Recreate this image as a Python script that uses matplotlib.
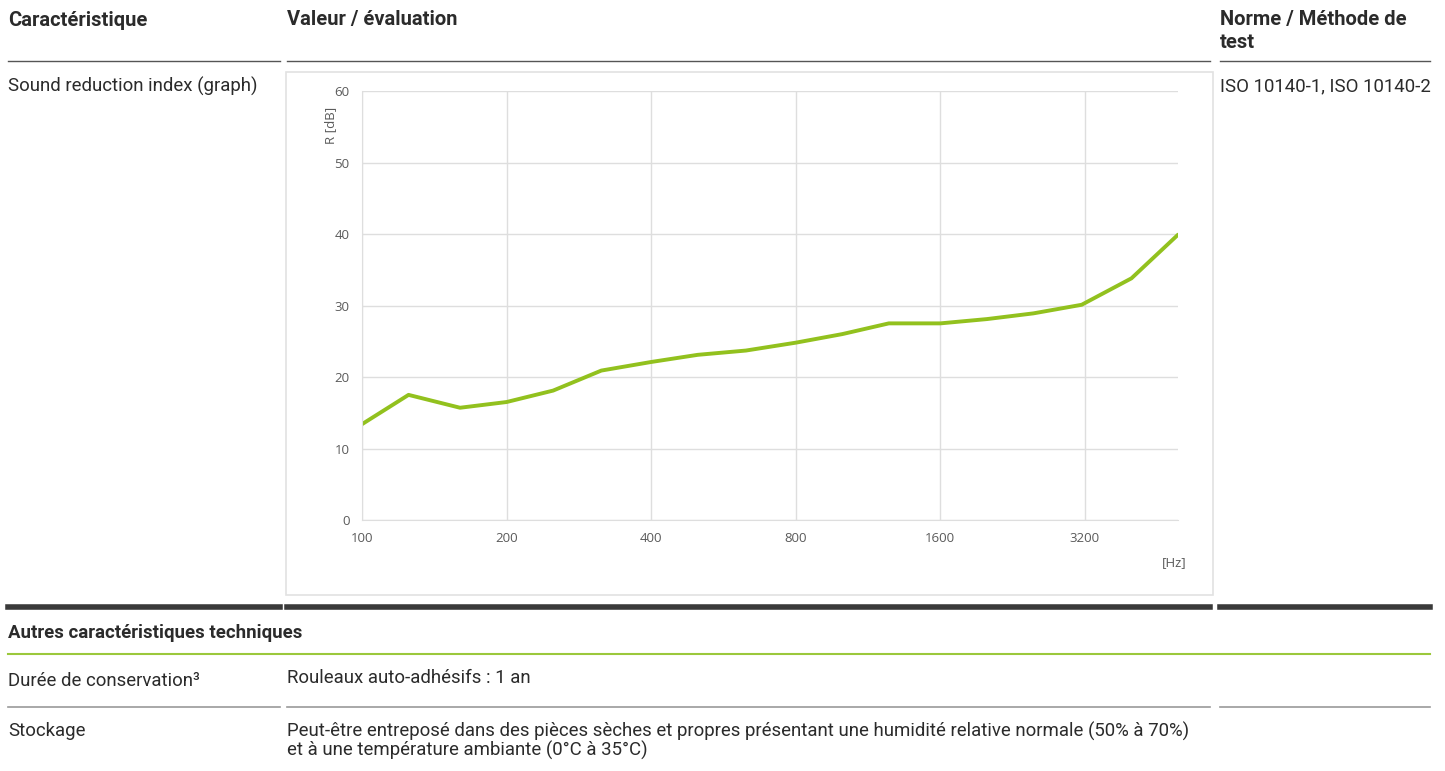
import matplotlib
matplotlib.use("Agg")
import matplotlib.pyplot as plt
from matplotlib.lines import Line2D
from matplotlib.patches import Rectangle
from matplotlib.ticker import FixedLocator, NullLocator

# --- data -------------------------------------------------
freq_hz = [100, 125, 160, 200, 250, 315, 400, 500, 630, 800,
           1000, 1250, 1600, 2000, 2500, 3150, 4000, 5000]
r_db = [13.4, 17.5, 15.7, 16.5, 18.1, 20.9, 22.1, 23.1, 23.7, 24.8,
        26.0, 27.5, 27.5, 28.1, 28.9, 30.1, 33.8, 39.9]
x_ticks = [100, 200, 400, 800, 1600, 3200]
y_ticks = [0, 10, 20, 30, 40, 50, 60]

W, H = 1445, 771
fig = plt.figure(figsize=(W / 100, H / 100), dpi=100)
fig.patch.set_facecolor("white")

FONT = "Roboto"
TXT = "#2b2b2b"
GREEN = "#92c11e"


def fx(px):
    return px / W


def fy(py):
    return 1 - py / H


def hline(y, x0, x1, color, lw):
    fig.add_artist(Line2D([fx(x0), fx(x1)], [fy(y), fy(y)], color=color,
                          linewidth=lw, transform=fig.transFigure))


def text(x, y, s, size=13.4, weight="normal", color=TXT):
    fig.text(fx(x), fy(y), s, fontsize=size, fontweight=weight, color=color,
             family=FONT, va="center", ha="left")


cols = [(8, 280), (287, 1210), (1220, 1430)]

# header
text(8, 20, "Caractéristique", size=14.5, weight="bold")
text(287, 20, "Valeur / évaluation", size=14.5, weight="bold")
text(1220, 20, "Norme / Méthode de", size=14.5, weight="bold")
text(1220, 42, "test", size=14.5, weight="bold")
for a, b in cols:
    hline(61, a, b, "#555555", 1.0)

text(8, 86, "Sound reduction index (graph)")
text(1220, 86, "ISO 10140-1, ISO 10140-2")

# chart frame
fig.add_artist(Rectangle((fx(286), fy(595)), fx(1213) - fx(286), fy(72) - fy(595),
                         transform=fig.transFigure, facecolor="none",
                         edgecolor="#e2e2e2", linewidth=1.2, zorder=-1))

ax = fig.add_axes([fx(362), fy(520), fx(1178) - fx(362), fy(91) - fy(520)])
ax.plot(freq_hz, r_db, color=GREEN, linewidth=2.8, solid_capstyle="round")
ax.set_xscale("log", base=2)
ax.set_xlim(100, 5000)
ax.set_ylim(0, 60)
ax.xaxis.set_major_locator(FixedLocator(x_ticks))
ax.xaxis.set_minor_locator(NullLocator())
ax.set_xticklabels([str(t) for t in x_ticks])
ax.set_yticks(y_ticks)
ax.grid(True, color="#dedede", linewidth=1)
ax.set_axisbelow(True)
for s in ["top", "right"]:
    ax.spines[s].set_visible(False)
for s in ["left", "bottom"]:
    ax.spines[s].set_color("#dedede")
ax.tick_params(length=0, labelsize=9.5, labelcolor="#5a5a5a", pad=9)
for lab in ax.get_xticklabels() + ax.get_yticklabels():
    lab.set_family("Open Sans")
ax.patch.set_alpha(0)

fig.text(fx(331), fy(125), "R [dB]", rotation=90, fontsize=9.5, color="#5a5a5a",
         family="Open Sans", ha="center", va="center")
fig.text(fx(1174), fy(563), "[Hz]", fontsize=9.5, color="#5a5a5a",
         family="Open Sans", ha="center", va="center")

# lower table
for a, b in cols:
    hline(607, a, b, "#3a3a3a", 4)
text(8, 633, "Autres caractéristiques techniques", weight="bold")
hline(654, 8, 1430, "#9bc83c", 1.5)

text(8, 681, "Durée de conservation³")
text(287, 678, "Rouleaux auto-adhésifs : 1 an")
for a, b in cols:
    hline(707, a, b, "#999999", 1.2)
text(8, 731, "Stockage")
text(287, 731, "Peut-être entreposé dans des pièces sèches et propres présentant une humidité relative normale (50% à 70%)")
text(287, 750, "et à une température ambiante (0°C à 35°C)")

fig.savefig("out.png", dpi=100, facecolor="white")
